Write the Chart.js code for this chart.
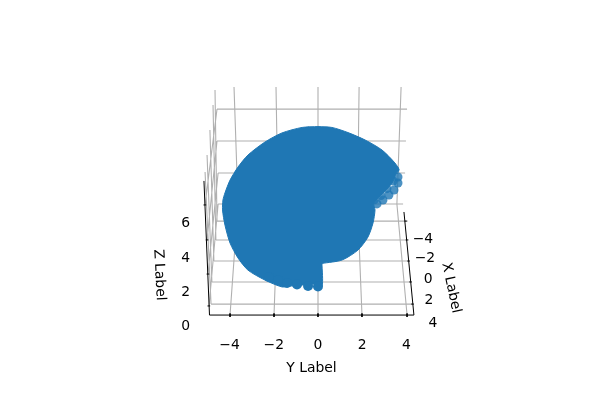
<!DOCTYPE html>
<html><head><meta charset="utf-8">
<style>html,body{margin:0;padding:0;background:#fff}canvas{display:block}</style>
<script src="https://cdn.jsdelivr.net/npm/chart.js@4"></script>
</head><body><canvas id="c" width="600" height="400"></canvas>
<script>
const yTicks = [-4,-2,0,2,4];
const zTicks = [0,2,4,6];
const xTickLabels = ["\u22124","\u22122","0","2","4"];
const xTickSpotsX = [4.75,4.84,4.98,5.02,5.20];
const xTickSpotsY = [5.01,3.91,2.68,1.46,0.12];

const shellOutlineX = [0,0.63,1.36,2.13,2.90,3.48,3.67,3.55,3.38,3.10,2.75,2.52,2.58,2.49,2.26,1.81,1.09,0.18];
const shellOutlineY = [11.57,11.52,11.22,10.79,10.20,9.45,9.04,8.92,8.34,7.90,7.45,7.10,6.71,5.95,5.13,4.37,3.79,3.59];
const shellLowerX = [0.18,0.18,-0.18,-0.72,-1.27,-1.63,-2.40,-3.17,-3.62,-3.98,-4.21,-4.32,-4.30,-4.21,-3.98,-3.62,-3.17,-2.40,-1.63,-0.72,0];
const shellLowerY = [3.59,2.27,2.39,2.33,2.27,2.22,2.62,3.20,3.91,4.78,5.83,6.71,7.29,7.70,8.45,9.21,9.91,10.67,11.20,11.52,11.57];
const shellLobesX = [0,-0.45,-0.95,-1.40,-1.81,-2.22];
const shellLobesY = [2.25,2.27,2.36,2.45,2.62,2.80];
const shellTipX = [3.48,3.62,3.62,3.44,3.21,2.94,2.67,3.26,3.03,2.76,3.40,3.12,2.85,2.55];
const shellTipY = [9.04,8.63,8.28,7.87,7.58,7.29,7.06,8.69,8.22,7.81,8.40,7.95,7.55,7.30];

const gridSegments = [
 [-4.52,7.06,3.85,7.06],[-4.52,8.86,3.94,8.86],[-4.57,10.73,3.98,10.73],[-4.57,12.59,4.03,12.59],
 [-4.84,1.22,4.28,1.22],[-4.80,2.51,4.16,2.51],[-4.71,3.73,4.07,3.73],[-4.62,4.96,4.03,4.96],[-4.57,6.06,3.98,6.06],
 [-3.98,0.58,-3.62,7.06,-3.80,13.88],[-1.99,0.58,-1.81,7.06,-1.90,13.88],[0,0.58,0,7.06,0,13.88],[1.99,0.58,1.79,7.06,1.86,13.88],[4.03,0.58,3.57,7.06,3.76,13.88],
 [-4.84,1.22,-5.11,8.92],[-4.80,2.51,-5.02,9.91],[-4.71,3.73,-4.89,11.37],[-4.62,4.96,-4.75,12.83],[-4.57,6.06,-4.66,13.70],
 [-4.52,7.06,-4.93,1.11],[-4.52,8.86,-4.98,2.97],[-4.57,10.73,-5.02,4.96],[-4.57,12.59,-5.11,7.00]
];
const axisSegments = [
 [-5.16,8.40,-4.91,0.58,4.34,0.58,3.89,6.59],
 [-3.98,0.67,-3.98,0.47],[-1.99,0.67,-1.99,0.47],[0,0.67,0,0.47],[1.99,0.67,1.99,0.47],[4.03,0.67,4.03,0.47],
 [-5.18,7.00,-5.06,7.00],[-5.08,4.96,-4.96,4.96],[-5.04,2.97,-4.92,2.97],[-5.00,1.11,-4.88,1.11],
 [3.92,6.06,4.04,6.06],[3.97,4.96,4.09,4.96],[4.04,3.73,4.16,3.73],[4.13,2.51,4.25,2.51],[4.22,1.22,4.34,1.22]
];
const textFont = '13.9px "DejaVu Sans"';
const zip = (a,b)=>a.map((v,i)=>({x:v,y:b[i]}));
const segs = list => { const out=[]; list.forEach(s=>{ for(let i=0;i<s.length;i+=2) out.push({x:s[i],y:s[i+1]}); out.push({x:null,y:null}); }); return out; };
const minusFmt = v => v<0 ? '\u2212'+Math.abs(v) : String(v);

const sideText = {
 id:'sideText',
 afterDraw(chart){
  const {ctx,scales:{x,y}} = chart;
  ctx.save();
  ctx.fillStyle='#000'; ctx.font=textFont; ctx.textAlign='center'; ctx.textBaseline='middle';
  xTickLabels.forEach((t,i)=>ctx.fillText(t,x.getPixelForValue(xTickSpotsX[i]),y.getPixelForValue(xTickSpotsY[i])));
  const rot=(t,vx,vy,deg)=>{ctx.save();ctx.translate(x.getPixelForValue(vx),y.getPixelForValue(vy));ctx.rotate(deg*Math.PI/180);ctx.fillText(t,0,0);ctx.restore();};
  rot('X Label',6.02,2.16,78);
  rot('Z Label',-7.19,2.92,87);
  ctx.restore();
 }
};
new Chart(document.getElementById('c'),{
 type:'scatter',
 plugins:[sideText],
 data:{datasets:[
  {label:'grid',data:segs(gridSegments),showLine:true,borderColor:'#b0b0b0',borderWidth:1.1,pointRadius:0,clip:false,order:5,spanGaps:false},
  {label:'shell tip',data:zip(shellTipX,shellTipY),backgroundColor:'rgba(31,119,180,0.8)',borderWidth:0,pointRadius:4.5,clip:false,order:4},
  {label:'shell area',data:[...zip(shellOutlineX,shellOutlineY),...zip(shellLowerX,shellLowerY)],showLine:true,fill:'shape',tension:0.25,backgroundColor:'#1f77b4',borderColor:'#1f77b4',borderWidth:1,pointRadius:0,clip:false,order:3},
  {label:'shell lobes',data:zip(shellLobesX,shellLobesY),backgroundColor:'#1f77b4',borderWidth:0,pointRadius:5,clip:false,order:2},
  {label:'axes',data:segs(axisSegments),showLine:true,borderColor:'#000',borderWidth:1,pointRadius:0,clip:false,order:1,spanGaps:false}
 ]},
 options:{
  responsive:false,animation:false,devicePixelRatio:1,
  layout:{padding:{left:0,right:186,top:70,bottom:0}},
  plugins:{legend:{display:false},tooltip:{enabled:false}},
  scales:{
   x:{type:'linear',min:-4.932,max:4.344,
      grid:{display:false,drawTicks:false},border:{display:false},
      afterBuildTicks:s=>{s.ticks=yTicks.map(value=>({value}));},
      afterFit:s=>{s.height=75;},
      ticks:{callback:minusFmt,color:'#000',font:{family:'DejaVu Sans',size:13.9},padding:12,maxRotation:0,autoSkip:false},
      title:{display:true,text:'Y Label',color:'#000',font:{family:'DejaVu Sans',size:13.9},padding:{top:0,bottom:23}}},
   y:{type:'linear',min:0,max:14.87,
      grid:{display:false,drawTicks:false},border:{display:false},
      afterBuildTicks:s=>{s.ticks=zTicks.map(value=>({value}));},
      afterFit:s=>{s.width=209;},
      ticks:{callback:minusFmt,color:'#000',font:{family:'DejaVu Sans',size:13.9},padding:19,labelOffset:1.5,autoSkip:false}}
  }
 }
});
</script></body></html>
